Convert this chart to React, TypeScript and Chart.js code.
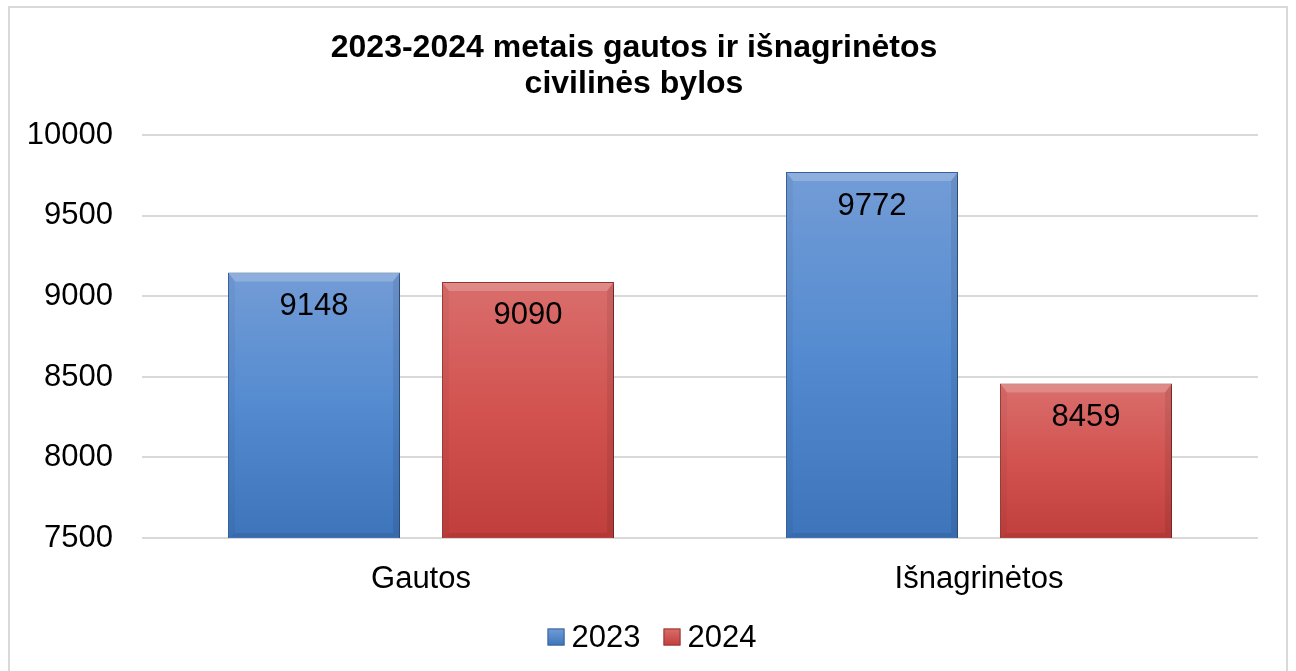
import React, { useEffect, useRef } from 'react';
import { Chart, registerables } from 'chart.js';

Chart.register(...registerables);

const categories = ['Gautos', 'Išnagrinėtos'];
const seriesLabels = ['2023', '2024'];
const values2023 = [9148, 9772];
const values2024 = [9090, 8459];
const yMin = 7500;
const yMax = 10000;
const yStep = 500;
const titleLines = ['2023-2024 metais gautos ir išnagrinėtos', 'civilinės bylos'];

const FONT = "'Liberation Sans', Arial, sans-serif";

const blue = { top: '#739cd6', mid: '#548bd0', bottom: '#3d74ba', border: '#3a639e' };
const red = { top: '#d96e6c', mid: '#d25350', bottom: '#c03f3c', border: '#9a3634' };
const palette = [blue, red];

const grad = (col: any) => (ctx: any) => {
  const chart = ctx.chart;
  const a = chart.chartArea;
  const ys = chart.scales && chart.scales.y;
  if (!a || !ys || ctx.raw == null) return col.mid;
  const top = ys.getPixelForValue(ctx.raw);
  const g = chart.ctx.createLinearGradient(0, top, 0, a.bottom);
  g.addColorStop(0, col.top);
  g.addColorStop(0.5, col.mid);
  g.addColorStop(1, col.bottom);
  return g;
};

const barDecor = {
  id: 'barDecor',
  beforeDatasetsDraw(chart: any) {
    const c = chart.ctx;
    c.save();
    c.shadowColor = 'rgba(0,0,0,0.35)';
    c.shadowBlur = 4;
    c.shadowOffsetX = 2;
    c.shadowOffsetY = 2;
  },
  afterDatasetsDraw(chart: any) {
    const c = chart.ctx;
    c.restore();
    const area = chart.chartArea;
    chart.data.datasets.forEach((ds: any, di: number) => {
      const meta = chart.getDatasetMeta(di);
      meta.data.forEach((el: any, i: number) => {
        const { x, y, width } = el.getProps(['x', 'y', 'width'], true);
        const l = x - width / 2 + 1;
        const r = x + width / 2 - 1;
        const t = y + 1;
        const b = area.bottom - 1;
        const bt = 8;
        const bs = 6;
        c.save();
        c.beginPath();
        c.rect(area.left, area.top, area.right - area.left, area.bottom - area.top);
        c.clip();
        c.beginPath();
        c.moveTo(l, t); c.lineTo(r, t); c.lineTo(r - bs, t + bt); c.lineTo(l + bs, t + bt); c.closePath();
        c.fillStyle = 'rgba(255,255,255,0.2)';
        c.fill();
        c.beginPath();
        c.moveTo(l, t); c.lineTo(l + bs, t + bt); c.lineTo(l + bs, b - 4); c.lineTo(l, b); c.closePath();
        c.fillStyle = 'rgba(0,0,0,0.04)';
        c.fill();
        c.beginPath();
        c.moveTo(r, t); c.lineTo(r - bs, t + bt); c.lineTo(r - bs, b - 4); c.lineTo(r, b); c.closePath();
        c.fillStyle = 'rgba(0,0,0,0.08)';
        c.fill();
        c.beginPath();
        c.moveTo(l, b); c.lineTo(l + bs, b - 4); c.lineTo(r - bs, b - 4); c.lineTo(r, b); c.closePath();
        c.fillStyle = 'rgba(0,0,0,0.08)';
        c.fill();
        c.restore();
        c.save();
        c.font = `31px ${FONT}`;
        c.fillStyle = '#000';
        c.textAlign = 'center';
        c.textBaseline = 'middle';
        c.fillText(String(ds.data[i]), x, y + 34);
        c.restore();
      });
    });
  },
};

const customLegend = {
  id: 'customLegend',
  afterDraw(chart: any) {
    const c = chart.ctx;
    c.save();
    c.font = `31px ${FONT}`;
    c.textBaseline = 'middle';
    c.textAlign = 'left';
    const box = 17;
    const gap = 7;
    const spacing = 23;
    const items = chart.data.datasets.map((ds: any, i: number) => ({
      text: ds.label,
      w: c.measureText(ds.label).width,
      col: palette[i],
    }));
    const total = items.reduce((s: number, it: any) => s + box + gap + it.w, 0) + spacing * (items.length - 1);
    let x = chart.width / 2 - total / 2 + 4;
    const cy = chart.height - 34;
    items.forEach((it: any) => {
      const g = c.createLinearGradient(0, cy - box / 2, 0, cy + box / 2);
      g.addColorStop(0, it.col.top);
      g.addColorStop(1, it.col.bottom);
      c.fillStyle = g;
      c.fillRect(x, cy - box / 2, box, box);
      c.strokeStyle = it.col.border;
      c.lineWidth = 1;
      c.strokeRect(x + 0.5, cy - box / 2 + 0.5, box - 1, box - 1);
      c.fillStyle = '#000';
      c.fillText(it.text, x + box + gap, cy + 1);
      x += box + gap + it.w + spacing;
    });
    c.restore();
  },
};

export default function App() {
  const ref = useRef<HTMLCanvasElement>(null);
  useEffect(() => {
    if (!ref.current) return;
    const chart = new Chart(ref.current, {
      type: 'bar',
      data: {
        labels: categories,
        datasets: [
          {
            label: seriesLabels[0],
            data: values2023,
            backgroundColor: grad(blue),
            borderColor: blue.border,
            borderWidth: 1,
            categoryPercentage: 0.767,
            barPercentage: 0.804,
          },
          {
            label: seriesLabels[1],
            data: values2024,
            backgroundColor: grad(red),
            borderColor: red.border,
            borderWidth: 1,
            categoryPercentage: 0.767,
            barPercentage: 0.804,
          },
        ],
      },
      options: {
        responsive: false,
        animation: false,
        layout: { padding: { left: 0, right: 28, top: 0, bottom: 59 } },
        plugins: {
          tooltip: { enabled: false },
          title: {
            display: true,
            text: titleLines,
            color: '#000',
            font: { family: FONT, size: 32, weight: 'bold', lineHeight: 1.1 },
            padding: { top: 23, bottom: 34 },
          },
          legend: { display: false },
        },
        scales: {
          x: {
            grid: { display: false, drawTicks: false },
            border: { display: false },
            ticks: { color: '#000', font: { family: FONT, size: 31 }, padding: 23 },
            afterFit: (s: any) => { s.height = 74; },
          },
          y: {
            min: yMin,
            max: yMax,
            grid: { color: '#d9d9d9', lineWidth: 2, drawTicks: false },
            border: { display: false },
            ticks: {
              stepSize: yStep,
              color: '#000',
              font: { family: FONT, size: 31 },
              padding: 29,
              callback: (v: any) => String(v),
            },
            afterFit: (s: any) => { s.width = 132; },
          },
        },
      },
      plugins: [barDecor, customLegend],
    });
    return () => chart.destroy();
  }, []);

  return (
    <div
      style={{
        position: 'absolute',
        left: 8,
        top: 6,
        width: 1280,
        height: 665,
        boxSizing: 'border-box',
        borderTop: '2px solid #d9d9d9',
        borderLeft: '2px solid #d9d9d9',
        borderRight: '2px solid #d9d9d9',
        background: '#fff',
      }}
    >
      <canvas ref={ref} width={1276} height={663} style={{ display: 'block' }} />
    </div>
  );
}
